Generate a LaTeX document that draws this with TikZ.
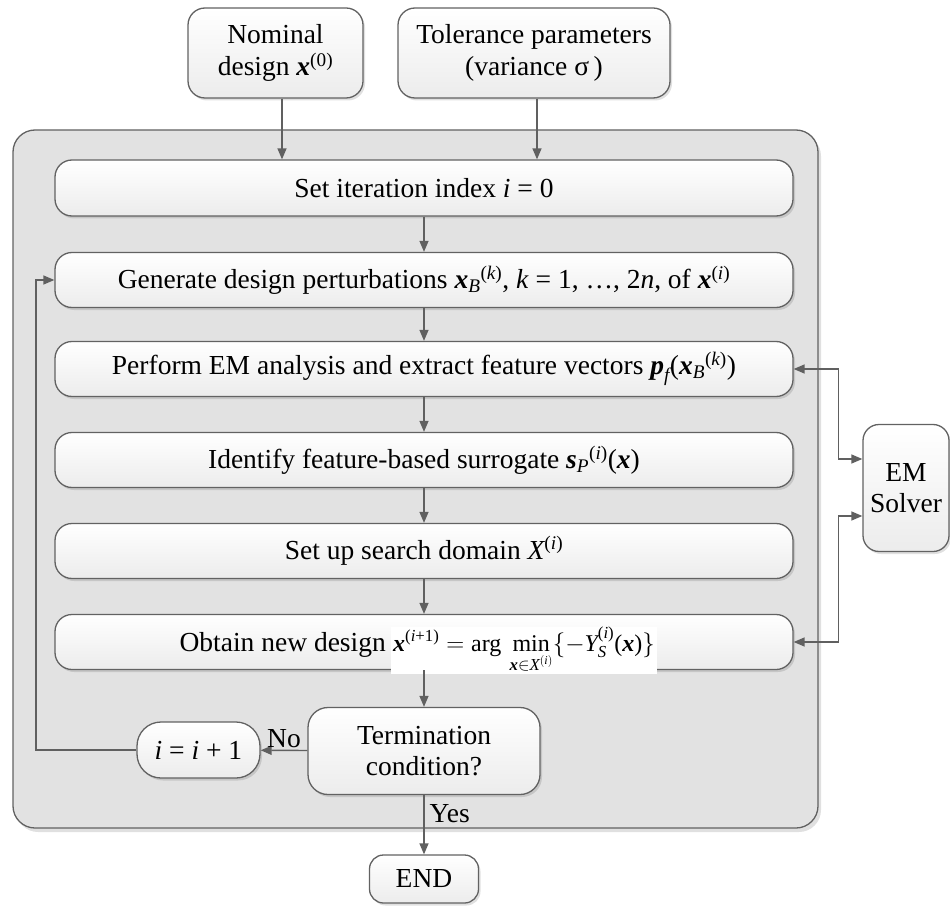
\documentclass[tikz,border=0pt]{standalone}
\usepackage{amsmath}
\usepackage{fontspec}
\setmainfont{Liberation Serif}
\usetikzlibrary{arrows.meta,shadows}
\definecolor{bordc}{RGB}{98,98,98}
\definecolor{arrc}{RGB}{96,96,96}
\definecolor{outerc}{RGB}{226,226,226}
\definecolor{boxbot}{RGB}{236,236,236}
\newcommand{\bx}{\textbf{\textit{x}}}
\newcommand{\tit}[1]{\text{\itshape #1}}
\newcommand{\trm}[1]{\text{#1}}
\newcommand{\fsmain}{\fontsize{27.5}{31.5}\selectfont}
\newcommand{\fseq}{\fontsize{24}{27}\selectfont}
\begin{document}
\begin{tikzpicture}[x=1pt,y=-1pt,
  >={Triangle[length=11pt,width=9pt]},
  box/.style={draw=bordc, line width=1.3pt, rounded corners=17pt, top color=white, bottom color=boxbot,
    align=center, inner sep=0pt, font=\fsmain,
    drop shadow={shadow xshift=2pt, shadow yshift=-2.5pt, opacity=0.12, fill=black}},
  arr/.style={draw=arrc, line width=1.4pt, ->},
  lbl/.style={font=\fsmain, inner sep=0pt},
]
\useasboundingbox (0,0) rectangle (950,909);

% outer container
\path[fill=outerc, draw=bordc, line width=1.3pt, rounded corners=22pt,
  drop shadow={shadow xshift=3pt, shadow yshift=-4pt, opacity=0.12, fill=black}]
  (13,130) rectangle (818,828);

% top inputs
\node[box, minimum width=175pt, minimum height=90pt] (nom) at (275.5,53) {Nominal\\design \bx\textsuperscript{(0)}};
\node[box, minimum width=272pt, minimum height=90pt] (tol) at (534,53) {Tolerance parameters\\(variance σ\,)};

% main steps
\node[box, minimum width=738pt, minimum height=56pt] (set) at (424,188) {Set iteration index \textit{i} = 0};
\node[box, minimum width=738pt, minimum height=55pt] (gen) at (424,280)
  {Generate design perturbations ${\bx_{\tit{B}}}^{\trm{(}\tit{k}\trm{)}}$, \textit{k} = 1, …, 2\textit{n}, of $\bx^{\trm{(}\tit{i}\trm{)}}$};
\node[box, minimum width=738pt, minimum height=55pt] (perf) at (424,369)
  {Perform EM analysis and extract feature vectors $\textbf{\textit{p}}_{\tit{f}}$(${\bx_{\tit{B}}}^{\trm{(}\tit{k}\trm{)}}$)};
\node[box, minimum width=738pt, minimum height=55pt] (iden) at (424,460)
  {Identify feature-based surrogate ${\textbf{\textit{s}}_{\tit{P}}}^{\trm{(}\tit{i}\trm{)}}$(\bx)};
\node[box, minimum width=738pt, minimum height=55pt] (setup) at (424,551)
  {Set up search domain $\tit{X}^{\trm{(}\tit{i}\trm{)}}$};
\node[box, minimum width=738pt, minimum height=55pt] (obt) at (424,642) {};
\node[lbl, anchor=base east] (obtt) at (386,651) {Obtain new design};
\node[fill=white, inner xsep=2pt, inner ysep=0.5pt, anchor=base west, font=\fseq] (eq) at (391,651)
  {$\bx^{\trm{(}\tit{i}\trm{+1)}} = \trm{arg}\,\mathop{\trm{min}}\limits_{\bx\in\tit{X}^{(\tit{i})}}\{-\tit{Y}_{\tit{S}}^{\trm{(}\tit{i}\trm{)}}\trm{(}\bx\trm{)}\}$};

\node[box, rounded corners=20pt, minimum width=232pt, minimum height=87pt] (term) at (424,751) {Termination\\condition?};
\node[box, rounded corners=24pt, minimum width=123pt, minimum height=56pt] (inc) at (198.5,750) {\textit{i} = \textit{i} + 1};
\node[box, rounded corners=14pt, minimum width=109pt, minimum height=48pt] (endn) at (424,879) {END};

\node[box, rounded corners=16pt, minimum width=86pt, minimum height=127pt] (em) at (906,488) {EM\\Solver};

\coordinate (lp) at (36,750);

% connectors
\draw[arr] ([xshift=6.5pt]nom.south) -- ([xshift=6.5pt]nom.south |- set.north);
\draw[arr] ([xshift=3pt]tol.south) -- ([xshift=3pt]tol.south |- set.north);
\draw[arr] (set) -- (gen);
\draw[arr] (gen) -- (perf);
\draw[arr] (perf) -- (iden);
\draw[arr] (iden) -- (setup);
\draw[arr] (setup) -- (obt);
\draw[arr] (obt) -- (term);
\draw[arr] (term) -- node[lbl, anchor=west, xshift=5pt, yshift=11pt] (yes) {Yes} (endn);
\draw[arr] (term) -- node[lbl, anchor=south, yshift=2pt] (no) {No} (inc);
\draw[arr] (inc.west) -- (lp) |- (gen.west);
\draw[arr, <->] (perf.east) -- ++(45,0) |- ([yshift=29pt]em.west);
\draw[arr, <->] (obt.east) -- ++(45,0) |- ([yshift=-28pt]em.west);
\end{tikzpicture}
\end{document}
